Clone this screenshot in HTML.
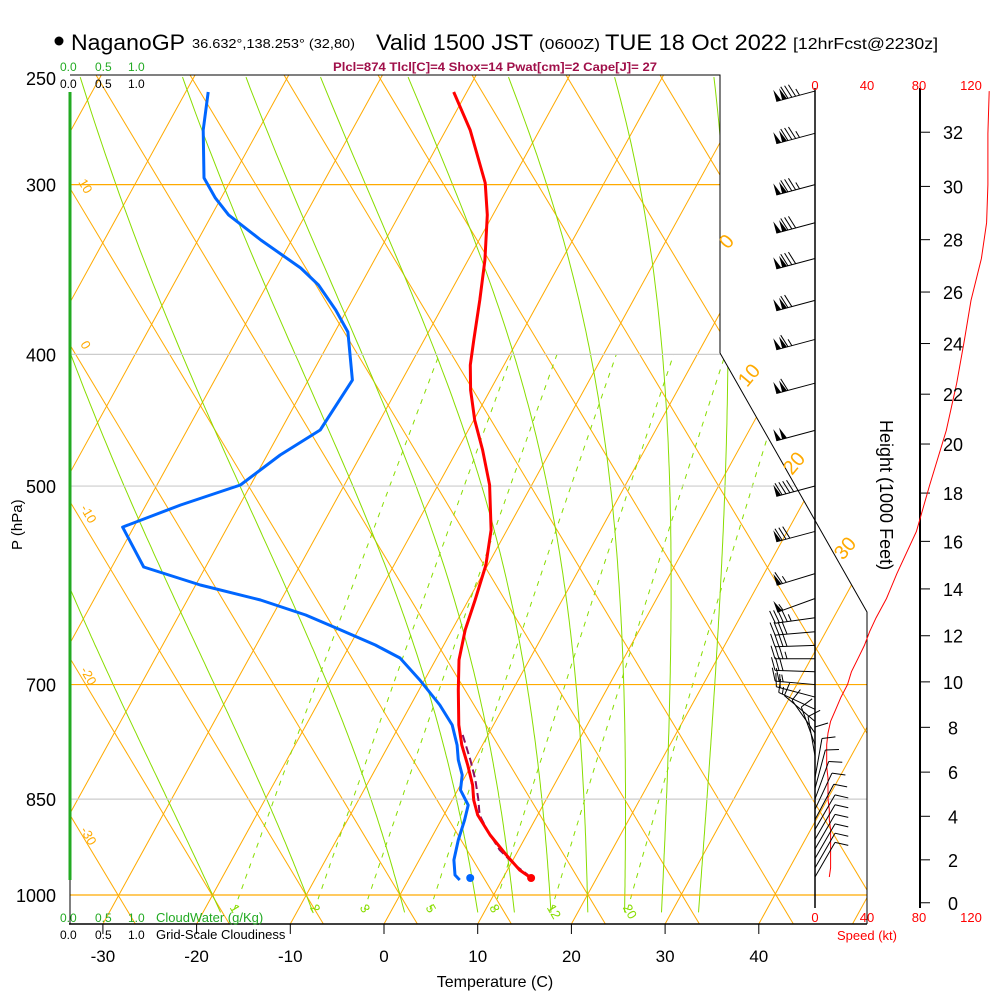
<!DOCTYPE html>
<html><head><meta charset="utf-8">
<style>
html,body{margin:0;padding:0;background:#fff;}
svg{display:block;font-family:"Liberation Sans",sans-serif;}
</style></head>
<body>
<svg id="chart" width="1000" height="1000" viewBox="0 0 1000 1000" xmlns="http://www.w3.org/2000/svg">
<defs>
<clipPath id="plotClip"><polygon points="70,75 720,75 720,353 867,612 867,924 70,924"/></clipPath>
</defs>
<rect width="1000" height="1000" fill="#fff"/>
<g id="title">
<circle cx="59" cy="41" r="4.5" fill="#000"/>
<text x="71" y="50" font-size="22" textLength="114" lengthAdjust="spacingAndGlyphs">NaganoGP</text>
<text x="192" y="48" font-size="13" textLength="163" lengthAdjust="spacingAndGlyphs">36.632°,138.253° (32,80)</text>
<text x="376" y="50" font-size="22" textLength="157" lengthAdjust="spacingAndGlyphs">Valid 1500 JST</text>
<text x="539" y="49" font-size="15" textLength="61" lengthAdjust="spacingAndGlyphs">(0600Z)</text>
<text x="605" y="50" font-size="22" textLength="182" lengthAdjust="spacingAndGlyphs">TUE 18 Oct 2022</text>
<text x="793" y="49" font-size="16" textLength="145" lengthAdjust="spacingAndGlyphs">[12hrFcst@2230z]</text>
</g>
<text x="333" y="71" font-size="12" font-weight="bold" fill="#a0104a" textLength="324" lengthAdjust="spacingAndGlyphs">Plcl=874 Tlcl[C]=4 Shox=14 Pwat[cm]=2 Cape[J]= 27</text>
<g id="grid" clip-path="url(#plotClip)"></g>
<g id="frame"></g>
<g id="profiles" clip-path="url(#plotClip)"></g>
<g id="winds"></g>
<g id="labels"></g>
</svg>
<script>
// ---------- data ----------
const tempP = [256.4,273.5,299.1,315.8,340.9,364.8,390.3,407.3,424.9,447.1,470.4,499.1,538.7,571.6,606.5,638.1,671.4,706.5,749.7,775.6,802.3,829.9,851.3,873.2,903.3,934.4,958.5,971.6];
const tempT = [-41.4,-37.4,-32.7,-30.6,-28.2,-26.4,-24.7,-23.6,-22.1,-19.9,-17.3,-14.5,-11.7,-10.2,-9.3,-8.6,-7.5,-5.8,-3.7,-2.2,-0.4,1.3,2.3,3.6,6.1,9.0,11.3,13.0];
const dewP = [256.4,273.5,296.6,306.9,315.8,329.5,345.5,355.6,371.0,385.1,417.8,454.7,474.4,499.1,516.3,536.0,573.5,591.3,606.5,622.1,638.1,654.6,669.2,694.6,724.7,749.7,775.6,795.5,816.0,837.0,858.6,880.6,911.0,942.4,966.7,974.9];
const dewT = [-67.6,-65.9,-63.0,-60.6,-58.2,-53.3,-47.4,-44.5,-41.2,-38.6,-35.3,-35.8,-38.6,-41.1,-46.3,-51.2,-46.6,-39.5,-32.2,-26.5,-21.9,-17.3,-13.9,-10.5,-6.9,-4.4,-2.7,-1.7,-0.4,0.3,2.0,2.5,3.0,3.7,4.7,5.5];
const parcelP = [762.4,795.5,822.9,851.3,873.2,895.7,926.5,950.4,966.7];
const parcelT = [-2.7,-0.4,1.3,2.8,3.8,5.5,8.0,10.5,12.5];
const sfcP = [971.6];
const sfcT = [13.0];
const sfcTd = [6.5];
const windP = [256,275,300,320,340,365,390,420,455,500,540,580,605,625,640,655,670,685,700,715,730,745,760,775,790,805,820,835,850,865,880,895,910,925,940,955,970];
const windSpd = [134,133,133,132,128,120,115,109,101,88,78,63,55,47,42,38,33,28,25,20,16,12,10,9,9,9,10,10,10,11,11,12,12,12,12,12,11];
const windDir = [255,255,255,255,255,255,255,255,255,255,255,253,250,262,265,268,270,272,275,285,295,310,325,340,350,0,10,15,20,25,28,30,30,30,30,30,30];
const pLevels = [250,300,400,500,700,850,1000];
const tTicks = [-30,-20,-10,0,10,20,30,40];
const hTicks = [0,2,4,6,8,10,12,14,16,18,20,22,24,26,28,30,32];
const spdTicks = [0,40,80,120];
const mixW = [1,2,3,5,8,12,20];
const mixLabels = ["1","2","3","5","8","12","20"];
const moistStart = [-20,-10,0,8,12,16,20,24,28,32];
// ---------- axes ----------
const NS='http://www.w3.org/2000/svg';
function yP(p){return 895-590*Math.log(1000/p);}
function xT(T,y){return 384+9.37*T+0.55*(924-y);}
function xTP(T,p){return xT(T,yP(p));}
function xS(s){return 815+1.3*s;}
function mk(tag,attrs,parent){const e=document.createElementNS(NS,tag);for(const k in attrs)e.setAttribute(k,attrs[k]);parent.appendChild(e);return e;}
const grid=document.getElementById('grid'),frame=document.getElementById('frame'),prof=document.getElementById('profiles'),winds=document.getElementById('winds'),labels=document.getElementById('labels');
for(let T=-120;T<=60;T+=10){
  const l=mk('line',{x1:xT(T,924),y1:924,x2:xT(T,75),y2:75,stroke:'#ffaa00','stroke-width':1},grid);
  
  
}
for(let k=-2;k<=14;k++){
  const c=118+94*k;
  const l=mk('line',{x1:c+0.6*(924-895),y1:924,x2:c-0.6*(895-75),y2:75,stroke:'#ffaa00','stroke-width':1},grid);
  
  
}
function tdFromW(w,p){const e=w*p/(622+w);const a=Math.log(e/6.112);return 243.5*a/(17.67-a);}
mixW.forEach(w=>{
  let d='';
  for(let p=1025;p>=400;p-=5){const x=xTP(tdFromW(w,p),p),y=yP(p);d+=(d?'L':'M')+x.toFixed(1)+','+y.toFixed(1);}
  const l=mk('path',{d:d,fill:'none',stroke:'#88dd00','stroke-width':1,'stroke-dasharray':'5,6'},grid);
  
  
});
function es(Tc){return 6.112*Math.exp(17.67*Tc/(Tc+243.5));}
function moistStep(T,p,dp){const e=es(T-273.15);const rs=0.622*e/(p-e);const Lv=2.5e6,Rd=287,Cp=1005;
  const dTdp=(Rd*T+Lv*rs)/(p*(Cp+Lv*Lv*rs*0.622/(Rd*T*T)));return dTdp*dp;}
function moistPath(T0){
  let T=T0+273.15,p=1000,pts=[];
  let Tb=T;for(let pp=1000;pp<1030;pp+=5){Tb+=moistStep(Tb,pp,5);}pts.push([Tb-273.15,1030]);
  pts.push([T-273.15,1000]);
  while(p>250){T+=moistStep(T,p,-5);p-=5;pts.push([T-273.15,p]);}
  return pts;
}
moistStart.forEach(t0=>{
  const pts=moistPath(t0);let d='';
  pts.forEach(q=>{d+=(d?'L':'M')+xTP(q[0],q[1]).toFixed(1)+','+yP(q[1]).toFixed(1);});
  const l=mk('path',{d:d,fill:'none',stroke:'#88dd00','stroke-width':1},grid);
  
  
});
pLevels.forEach(p=>{
  const y=yP(p);if(p===250)return;
  const col=(p===300||p===700||p===1000)?'#ffaa00':'#cccccc';
  const l=mk('line',{x1:70,y1:y,x2:870,y2:y,stroke:col,'stroke-width':1.2},grid);
  
  
  const t=mk('text',{x:56,y:y+7,'font-size':18,'text-anchor':'end'},labels);t.textContent=p;
  
  
});
{const t=mk('text',{x:56,y:yP(250)+8,'font-size':18,'text-anchor':'end'},labels);t.textContent='250';
 
 }
mk('polyline',{points:'70,75 720,75 720,353 867,612 867,924',fill:'none',stroke:'#000','stroke-width':1},frame);
mk('line',{x1:69,y1:924,x2:867,y2:924,stroke:'#000','stroke-width':1.5},frame);
const cb=mk('line',{x1:70,y1:92,x2:70,y2:880,stroke:'#22aa22','stroke-width':3},frame);


mk('line',{x1:70,y1:880,x2:70,y2:924,stroke:'#000','stroke-width':1},frame);
tTicks.forEach(T=>{const x=384+9.37*T;
  mk('line',{x1:x,y1:924,x2:x,y2:934,stroke:'#000'},frame);
  const t=mk('text',{x:x,y:962,'font-size':17,'text-anchor':'middle'},labels);t.textContent=T;
  
  
});
[[78,182,'10'],[80,344,'0'],[80,508,'-10'],[80,670,'-20'],[80,830,'-30']].forEach(a=>{
  const t=mk('text',{x:a[0],y:a[1],'font-size':13,fill:'#ffaa00',transform:'rotate(60 '+a[0]+' '+a[1]+')'},labels);t.textContent=a[2];
  
  
});
[[728,250,'0'],[747,388,'10'],[792,476,'20'],[843,561,'30']].forEach(a=>{
  const t=mk('text',{x:a[0],y:a[1],'font-size':20,fill:'#ffaa00',transform:'rotate(-50 '+a[0]+' '+a[1]+')'},labels);t.textContent=a[2];
  
  
});
mixLabels.forEach(s=>{const w=+s;const p=1022;const x=xTP(tdFromW(w,p),p);
  const t=mk('text',{x:x-4,y:913,'font-size':13,fill:'#88dd00',transform:'rotate(60 '+x+' 909)'},labels);t.textContent=s;
  
  
});
function line(P,T,attrs,name){let d='';P.forEach((p,i)=>{d+=(i?'L':'M')+xTP(T[i],p).toFixed(1)+','+yP(p).toFixed(1);});
  const l=mk('path',Object.assign({d:d,fill:'none'},attrs),prof);
  
  }
line(dewP,dewT,{stroke:'#0066ff','stroke-width':3,'stroke-linejoin':'round'},'dewpoint-line');
line(parcelP,parcelT,{stroke:'#8a1060','stroke-width':2,'stroke-dasharray':'8,4'},'parcel-line');
line(tempP,tempT,{stroke:'#ff0000','stroke-width':3,'stroke-linejoin':'round'},'temperature-line');
{const c=mk('circle',{cx:xTP(sfcT[0],sfcP[0]),cy:yP(sfcP[0]),r:4,fill:'#ff0000'},prof);
 
 
 const d=mk('circle',{cx:xTP(sfcTd[0],sfcP[0]),cy:yP(sfcP[0]),r:4,fill:'#0066ff'},prof);
 
 }
mk('line',{x1:815,y1:88,x2:815,y2:908,stroke:'#000','stroke-width':1.5},frame);
spdTicks.forEach((s,i)=>{const x=xS(s);
  const t=mk('text',{x:x,y:90,'font-size':13,fill:'#ff0000','text-anchor':'middle'},labels);t.textContent=s;
  
  
  const b=mk('text',{x:x,y:922,'font-size':13,fill:'#ff0000','text-anchor':'middle'},labels);b.textContent=s;
  
  
});
{let d='';windP.forEach((p,i)=>{d+=(i?'L':'M')+xS(windSpd[i]).toFixed(1)+','+yP(p).toFixed(1);});
 const l=mk('path',{d:d,fill:'none',stroke:'#ff0000','stroke-width':1},winds);
 
 }
windP.forEach((p,i)=>{
  const g=mk('g',{},winds);
  
  
  const y=yP(p),x=815,L=40,a=windDir[i]*Math.PI/180;
  const ux=Math.sin(a),uy=-Math.cos(a);const px=-uy,py=ux;
  const ex=x+L*ux,ey=y+L*uy;
  mk('line',{x1:x,y1:y,x2:ex,y2:ey,stroke:'#000','stroke-width':1},g);
  let s=Math.round(windSpd[i]/5)*5,pos=0;
  while(s>=50){const bx=ex-ux*pos,by=ey-uy*pos;const b2x=bx-ux*5,b2y=by-uy*5;
    mk('polygon',{points:`${bx},${by} ${b2x},${b2y} ${bx+px*12},${by+py*12}`,fill:'#000'},g);pos+=6;s-=50;}
  while(s>=10){const bx=ex-ux*pos,by=ey-uy*pos;mk('line',{x1:bx,y1:by,x2:bx+px*13+ux*4,y2:by+py*13+uy*4,stroke:'#000','stroke-width':1},g);pos+=4;s-=10;}
  if(s>=5){if(pos===0)pos=4;const bx=ex-ux*pos,by=ey-uy*pos;mk('line',{x1:bx,y1:by,x2:bx+px*7+ux*2,y2:by+py*7+uy*2,stroke:'#000','stroke-width':1},g);}
});
mk('line',{x1:920,y1:88,x2:920,y2:908,stroke:'#000','stroke-width':2},frame);
function hY(kft){const p=1013.25*Math.pow(1-6.8756e-6*kft*1000,5.2559);return yP(p);}
hTicks.forEach(h=>{const y=hY(h);
  mk('line',{x1:920,y1:y,x2:930,y2:y,stroke:'#000'},frame);
  const t=mk('text',{x:953,y:y+7,'font-size':18,'text-anchor':'middle'},labels);t.textContent=h;
  
  
});
</script>
<script>
(function(){
const s=document.getElementById('chart');const NS='http://www.w3.org/2000/svg';
function T(x,y,txt,attrs,name){const e=document.createElementNS(NS,'text');e.setAttribute('x',x);e.setAttribute('y',y);for(const k in attrs)e.setAttribute(k,attrs[k]);e.textContent=txt;
 
 
 s.appendChild(e);}
T(880,420,'Height (1000 Feet)',{'font-size':18,transform:'rotate(90 880 420)'},'height-axis-title');
T(22,550,'P (hPa)',{'font-size':15,transform:'rotate(-90 22 550)'},'pressure-axis-title');
T(495,987,'Temperature (C)',{'font-size':16,'text-anchor':'middle'},'temperature-axis-title');
T(837,940,'Speed (kt)',{'font-size':13,fill:'#ff0000'},'speed-axis-title');
T(60,71,'0.0',{'font-size':12,fill:'#22aa22'},'cloudwater-scale');
T(95,71,'0.5',{'font-size':12,fill:'#22aa22'},'cloudwater-scale');
T(128,71,'1.0',{'font-size':12,fill:'#22aa22'},'cloudwater-scale');
T(60,88,'0.0',{'font-size':12},'cloudiness-scale');
T(95,88,'0.5',{'font-size':12},'cloudiness-scale');
T(128,88,'1.0',{'font-size':12},'cloudiness-scale');
T(60,922,'0.0',{'font-size':12,fill:'#22aa22'},'cloudwater-scale');
T(95,922,'0.5',{'font-size':12,fill:'#22aa22'},'cloudwater-scale');
T(128,922,'1.0',{'font-size':12,fill:'#22aa22'},'cloudwater-scale');
T(156,922,'CloudWater (g/Kg)',{'font-size':13,fill:'#22aa22'},'cloudwater-legend');
T(60,939,'0.0',{'font-size':12},'cloudiness-scale');
T(95,939,'0.5',{'font-size':12},'cloudiness-scale');
T(128,939,'1.0',{'font-size':12},'cloudiness-scale');
T(156,939,'Grid-Scale Cloudiness',{'font-size':13},'cloudiness-legend');
})();
</script>
</body></html>
